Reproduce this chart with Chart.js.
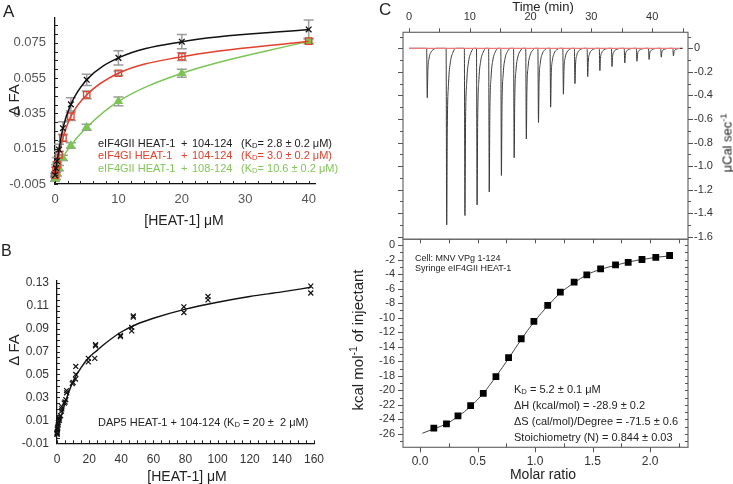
<!DOCTYPE html>
<html>
<head>
<meta charset="utf-8">
<script src="https://cdn.jsdelivr.net/npm/chart.js@4.4.1/dist/chart.umd.min.js"></script>
<style>
  body { margin: 0; background: #fff; width: 733px; height: 484px; position: relative; overflow: hidden;
         font-family: "Liberation Sans", Arial, sans-serif; }
  canvas { position: absolute; }
  .t { position: absolute; white-space: nowrap; line-height: 1; color: #222; }
  .c { transform: translate(-50%, -50%); }
  .m { transform: translateY(-50%); }
  .r { transform: translate(-50%, -50%) rotate(-90deg); }
  sub { font-size: 70%; vertical-align: -0.25em; line-height: 0; }
  sup { font-size: 70%; vertical-align: 0.5em; line-height: 0; }
  .red { color: #e2402c; }
  .grn { color: #83c65a; }
</style>
</head>
<body>
<canvas id="chartA" width="370" height="235" style="left:0;top:0"></canvas>
<canvas id="chartB" width="370" height="244" style="left:0;top:240px"></canvas>
<canvas id="chartC1" width="363" height="255" style="left:370px;top:0"></canvas>
<canvas id="chartC2" width="363" height="262" style="left:370px;top:222px"></canvas>

<!-- panel letters -->
<div class="t" style="left:3px;top:3px;font-size:17px">A</div>
<div class="t" style="left:1px;top:243px;font-size:16px">B</div>
<div class="t" style="left:379px;top:1px;font-size:17px">C</div>

<!-- panel A text -->
<div class="t r" style="left:13px;top:100px;font-size:15px">Δ FA</div>
<div class="t c" style="left:184px;top:220px;font-size:14px">[HEAT-1] μM</div>
<div class="t m" style="left:98px;top:143px;font-size:11px">eIF4GII HEAT-1</div>
<div class="t m" style="left:181px;top:143px;font-size:11px">+</div>
<div class="t m" style="left:192px;top:143px;font-size:11px">104-124</div>
<div class="t m" style="left:241px;top:143px;font-size:11px">(K<sub>D</sub>= 2.8 ± 0.2 μM)</div>
<div class="t m red" style="left:98px;top:155px;font-size:11px">eIF4GI HEAT-1</div>
<div class="t m red" style="left:181px;top:155px;font-size:11px">+</div>
<div class="t m red" style="left:192px;top:155px;font-size:11px">104-124</div>
<div class="t m red" style="left:241px;top:155px;font-size:11px">(K<sub>D</sub>= 3.0 ± 0.2 μM)</div>
<div class="t m grn" style="left:98px;top:168px;font-size:11px">eIF4GII HEAT-1</div>
<div class="t m grn" style="left:181px;top:168px;font-size:11px">+</div>
<div class="t m grn" style="left:192px;top:168px;font-size:11px">108-124</div>
<div class="t m grn" style="left:241px;top:168px;font-size:11px">(K<sub>D</sub>= 10.6 ± 0.2 μM)</div>

<!-- panel B text -->
<div class="t r" style="left:13px;top:350px;font-size:15px">Δ FA</div>
<div class="t c" style="left:187px;top:476px;font-size:14px">[HEAT-1] μM</div>
<div class="t m" style="left:98px;top:422px;font-size:11px">DAP5 HEAT-1 + 104-124 (K<sub>D</sub> = 20 ±&nbsp; 2 μM)</div>

<!-- panel C text -->
<div class="t c" style="left:543px;top:6px;font-size:13px">Time (min)</div>
<div class="t r" style="left:727px;top:143px;font-size:13px">μCal sec<sup>-1</sup></div>
<div class="t r" style="left:357px;top:340px;font-size:15px">kcal mol<sup>-1</sup> of injectant</div>
<div class="t c" style="left:543px;top:474px;font-size:14px">Molar ratio</div>
<div class="t m" style="left:415px;top:258px;font-size:9px">Cell: MNV VPg 1-124</div>
<div class="t m" style="left:415px;top:268px;font-size:9px">Syringe eIF4GII HEAT-1</div>
<div class="t m" style="left:514px;top:389px;font-size:11px">K<sub>D</sub> = 5.2 ± 0.1 μM</div>
<div class="t m" style="left:514px;top:405px;font-size:11px">ΔH (kcal/mol) = -28.9 ± 0.2</div>
<div class="t m" style="left:514px;top:421px;font-size:11px">ΔS (cal/mol)/Degree = -71.5 ± 0.6</div>
<div class="t m" style="left:514px;top:437px;font-size:11px">Stoichiometry (N) = 0.844 ± 0.03</div>

<script>
// ---- Panel A: anisotropy titrations (mean ± error) ----
const concA = [0, 0.156, 0.3125, 0.625, 1.25, 2.5, 5, 10, 20, 40];
const faII104 = [0, 0.004, 0.008, 0.0145, 0.0266, 0.0401, 0.054, 0.0664, 0.0756, 0.0825];
const errII104 = [0.001, 0.002, 0.002, 0.003, 0.0036, 0.0038, 0.0032, 0.004, 0.004, 0.0053];
const faI104 = [0, 0.003, 0.006, 0.0115, 0.021, 0.0333, 0.0455, 0.0577, 0.0671, 0.0759];
const errI104 = [0.001, 0.0015, 0.0015, 0.002, 0.002, 0.0024, 0.0022, 0.0013, 0.0022, 0.0015];
const faII108 = [-0.002, -0.001, 0.001, 0.004, 0.0098, 0.0168, 0.0271, 0.0418, 0.0577, 0.0759];
const errII108 = [0.0015, 0.0015, 0.0015, 0.0015, 0.0015, 0.0015, 0.0017, 0.0025, 0.0023, 0.0015];
const xTicksA = [0, 10, 20, 30, 40];
const yTicksA = [-0.005, 0.015, 0.035, 0.055, 0.075];

// ---- Panel B: DAP5 HEAT-1 replicates and fitted curve ----
const concB = [158, 158, 94, 94, 79, 79, 47.5, 47.5, 46.5, 46.5, 39.5, 39.5, 24, 24, 23.5, 19.5, 19.5,
               11.7, 11.7, 11.5, 10, 9.5, 6, 6, 5.5, 5, 4.5, 3, 3, 2.8, 2.2, 1.5, 1.5, 1.2, 0.8, 0.7,
               0.4, 0.4, 0.2, 0.2, 0.1, 0.1, 0, 0];
const faB = [0.127, 0.121, 0.118, 0.115, 0.109, 0.104, 0.101, 0.100, 0.091, 0.088, 0.084, 0.083, 0.076, 0.075,
             0.064, 0.064, 0.061, 0.057, 0.050, 0.046, 0.043, 0.042, 0.036, 0.034, 0.028, 0.026, 0.025, 0.022,
             0.020, 0.018, 0.014, 0.012, 0.010, 0.011, 0.008, 0.006, 0.004, 0.003, 0.002, 0.000, -0.001,
             -0.002, -0.002, -0.001];
const fitConcB = [0, 1, 2.5, 5, 10, 15, 20, 25, 30, 40, 50, 60, 80, 100, 120, 140, 158];
const fitFaB = [-0.001, 0.005, 0.013, 0.025, 0.044, 0.056, 0.065, 0.071, 0.077, 0.087, 0.094, 0.099,
                0.107, 0.113, 0.118, 0.122, 0.126];
const xTicksB = [0, 20, 40, 60, 80, 100, 120, 140, 160];
const yTicksB = [-0.01, 0.01, 0.03, 0.05, 0.07, 0.09, 0.11, 0.13];

// ---- Panel C top: raw ITC thermogram ----
const injTime = [2.9, 6.1, 9.1, 11.1, 13.1, 15.1, 17.2, 19.2, 21.2, 23.2, 25.3, 27.2, 29.3, 31.3, 33.3,
                 35.4, 37.4, 39.4, 41.4, 43.4];
const injPeak = [-0.42, -1.50, -1.42, -1.33, -1.22, -1.08, -0.93, -0.77, -0.63, -0.50, -0.39, -0.30, -0.24,
                 -0.19, -0.155, -0.125, -0.11, -0.095, -0.075, -0.065];
// shape of one injection peak (minutes after injection, fraction of peak)
const tailDt = [0, 0.1, 0.2, 0.4, 0.7, 1.1, 1.6];
const tailFrac = [0, 1, 0.45, 0.2, 0.08, 0.025, 0];
const baselineTime = [0, 44.6];
const xTicksC1 = [0, 10, 20, 30, 40];
const yTicksC1 = [0, -0.2, -0.4, -0.6, -0.8, -1.0, -1.2, -1.4, -1.6];

// ---- Panel C bottom: integrated heats ----
const molarRatio = [0.12, 0.23, 0.33, 0.44, 0.55, 0.66, 0.77, 0.88, 0.99, 1.11, 1.22, 1.34, 1.45, 1.57,
                    1.70, 1.81, 1.93, 2.05, 2.17];
const heatInj = [-25.2, -24.6, -23.5, -22.1, -20.4, -18.1, -15.5, -12.9, -10.5, -8.3, -6.5, -5.1, -4.1,
                 -3.3, -2.75, -2.4, -2.0, -1.7, -1.45];
const fitRatio = [0.02, 0.12, 0.23, 0.33, 0.44, 0.55, 0.66, 0.77, 0.88, 0.99, 1.11, 1.22, 1.34, 1.45, 1.57,
                  1.70, 1.81, 1.93, 2.05, 2.17];
const fitHeat = [-25.9, -25.3, -24.6, -23.6, -22.2, -20.4, -18.1, -15.6, -13.0, -10.6, -8.4, -6.6, -5.2,
                 -4.1, -3.35, -2.8, -2.35, -2.0, -1.7, -1.5];
const xTicksC2 = [0, 0.5, 1, 1.5, 2];
const yTicksC2 = [0, -2, -4, -6, -8, -10, -12, -14, -16, -18, -20, -22, -24, -26];

Chart.defaults.font.family = '"Liberation Sans", Arial, sans-serif';
Chart.defaults.animation = false;
Chart.defaults.plugins.legend.display = false;
Chart.defaults.plugins.tooltip.enabled = false;

const pts = (xs, ys) => xs.map((x, i) => ({ x: x, y: ys[i] }));

// tick marks drawn by hand so minor ticks and in/out directions can differ
function tickMarks(list) {
  return {
    id: 'tickMarks',
    afterDraw(chart) {
      const { ctx, chartArea: a } = chart;
      ctx.save();
      ctx.lineWidth = 1;
      list.forEach(m => {
        const s = chart.scales[m.scale];
        ctx.strokeStyle = m.color || '#222';
        ctx.beginPath();
        const n = Math.round((m.to - m.from) / m.step);
        for (let i = 0; i <= n; i++) {
          const p = Math.round(s.getPixelForValue(m.from + i * m.step)) + 0.5;
          if (m.edge === 'left') { ctx.moveTo(a.left, p); ctx.lineTo(a.left + m.len, p); }
          if (m.edge === 'right') { ctx.moveTo(a.right, p); ctx.lineTo(a.right - m.len, p); }
          if (m.edge === 'bottom') { ctx.moveTo(p, a.bottom); ctx.lineTo(p, a.bottom - m.len); }
          if (m.edge === 'top') { ctx.moveTo(p, a.top); ctx.lineTo(p, a.top + m.len); }
        }
        ctx.stroke();
      });
      ctx.restore();
    }
  };
}

const frame = {
  id: 'frame',
  afterDraw(chart) {
    const { ctx, chartArea: a } = chart;
    ctx.save();
    ctx.strokeStyle = '#6a6a6a';
    ctx.lineWidth = 1.2;
    ctx.strokeRect(a.left, a.top, a.right - a.left, a.bottom - a.top);
    ctx.restore();
  }
};

const errorBars = {
  id: 'errorBars',
  beforeDatasetsDraw(chart) {
    const { ctx, scales: { x, y } } = chart;
    ctx.save();
    ctx.strokeStyle = '#9c9c9c';
    ctx.lineWidth = 1.5;
    chart.data.datasets.forEach(d => {
      if (!d.errors) return;
      d.data.forEach((p, i) => {
        const px = x.getPixelForValue(p.x);
        const hi = y.getPixelForValue(p.y + d.errors[i]);
        const lo = y.getPixelForValue(p.y - d.errors[i]);
        ctx.beginPath();
        ctx.moveTo(px, hi); ctx.lineTo(px, lo);
        ctx.moveTo(px - 5, hi); ctx.lineTo(px + 5, hi);
        ctx.moveTo(px - 5, lo); ctx.lineTo(px + 5, lo);
        ctx.stroke();
      });
    });
    ctx.restore();
  }
};

// a linear axis with fixed ticks and a fixed box size
function axis(position, min, max, ticks, fmt, opts) {
  const horiz = position === 'top' || position === 'bottom';
  return {
    type: 'linear', position: position, min: min, max: max,
    grid: { display: false, drawTicks: false },
    border: { display: opts.border !== false, color: '#111', width: 1.3 },
    afterBuildTicks: s => { s.ticks = ticks.map(v => ({ value: v })); },
    afterFit: s => { if (horiz) s.height = opts.size; else s.width = opts.size; },
    ticks: { callback: fmt, padding: opts.pad, color: opts.color || '#333',
             font: { size: opts.font }, maxRotation: 0, autoSkip: false }
  };
}

// Panel A
new Chart(document.getElementById('chartA'), {
  type: 'scatter',
  data: {
    datasets: [
      { data: pts(concA, faII104), errors: errII104, showLine: true, cubicInterpolationMode: 'monotone',
        borderColor: '#111', borderWidth: 1.5, pointStyle: 'crossRot', pointRadius: 4,
        pointBorderColor: '#111', pointBorderWidth: 1.3, clip: false },
      { data: pts(concA, faI104), errors: errI104, showLine: true, cubicInterpolationMode: 'monotone',
        borderColor: '#e2402c', borderWidth: 1.5, pointStyle: 'rect', pointRadius: 4.5,
        pointBorderColor: '#e2402c', pointBackgroundColor: 'rgba(255,255,255,0)', pointBorderWidth: 1.3, clip: false },
      { data: pts(concA, faII108), errors: errII108, showLine: true, cubicInterpolationMode: 'monotone',
        borderColor: '#7cc454', borderWidth: 1.5, pointStyle: 'triangle', pointRadius: 4,
        pointBorderColor: '#7cc454', pointBackgroundColor: '#7cc454', clip: false }
    ]
  },
  options: {
    responsive: false,
    layout: { padding: { top: 18, right: 55, left: 0, bottom: 0 } },
    scales: {
      x: axis('bottom', 0, 41, xTicksA, v => String(v), { size: 51, pad: 8, font: 13, color: '#555' }),
      y: axis('left', -0.005, 0.089, yTicksA, v => v.toFixed(3), { size: 55, pad: 9, font: 13, color: '#555' })
    }
  },
  plugins: [errorBars, tickMarks([
    { scale: 'y', edge: 'left', from: -0.005, to: 0.085, step: 0.005, len: 3 },
    { scale: 'x', edge: 'bottom', from: 0, to: 40, step: 2, len: 3 }
  ])]
});

// Panel B
new Chart(document.getElementById('chartB'), {
  type: 'scatter',
  data: {
    datasets: [
      { data: pts(concB, faB), pointStyle: 'crossRot', pointRadius: 3.5, pointBorderColor: '#111',
        pointBorderWidth: 1.2, clip: false },
      { data: pts(fitConcB, fitFaB), showLine: true, cubicInterpolationMode: 'monotone',
        borderColor: '#111', borderWidth: 1.4, pointRadius: 0 }
    ]
  },
  options: {
    responsive: false,
    layout: { padding: { top: 40.4, right: 56, left: 0, bottom: 0 } },
    scales: {
      x: axis('bottom', 0, 160, xTicksB, v => String(v), { size: 40.7, pad: 9, font: 12 }),
      y: axis('left', -0.01, 0.132, yTicksB, v => v.toFixed(2), { size: 57, pad: 8, font: 12 })
    }
  },
  plugins: [tickMarks([
    { scale: 'y', edge: 'left', from: -0.01, to: 0.13, step: 0.005, len: 3 },
    { scale: 'x', edge: 'bottom', from: 0, to: 160, step: 5, len: 3 }
  ])]
});

// Panel C top: thermogram
const trace = [];
injTime.forEach((t, i) => tailDt.forEach((dt, k) => trace.push({ x: t + dt, y: injPeak[i] * tailFrac[k] })));
trace.unshift({ x: baselineTime[0], y: 0 });
trace.push({ x: baselineTime[1], y: 0 });

new Chart(document.getElementById('chartC1'), {
  type: 'scatter',
  data: {
    datasets: [
      { data: baselineTime.map(t => ({ x: t, y: 0 })), showLine: true, borderColor: '#ec7a7a',
        borderWidth: 1.2, pointRadius: 0 },
      { data: trace, showLine: true, cubicInterpolationMode: 'monotone', borderColor: '#3a3a3a',
        borderWidth: 1, pointRadius: 0 }
    ]
  },
  options: {
    responsive: false,
    layout: { padding: { top: 0, right: 0, left: 33, bottom: 15.7 } },
    scales: {
      x: axis('top', -0.99, 45.9, xTicksC1, v => String(v), { size: 32.3, pad: 9, font: 11, border: false }),
      y: axis('right', -1.622, 0.136, yTicksC1, v => v === 0 ? '0' : v.toFixed(1), { size: 45, pad: 6, font: 11, border: false })
    }
  },
  plugins: [frame, tickMarks([
    { scale: 'x', edge: 'top', from: 0, to: 45, step: 5, len: -4, color: '#555' },
    { scale: 'y', edge: 'right', from: -1.6, to: 0, step: 0.2, len: -5, color: '#555' },
    { scale: 'y', edge: 'right', from: -1.6, to: 0.1, step: 0.1, len: -3, color: '#555' },
    { scale: 'y', edge: 'left', from: -1.6, to: 0, step: 0.2, len: -5, color: '#555' },
    { scale: 'y', edge: 'left', from: -1.6, to: 0.1, step: 0.1, len: -3, color: '#555' }
  ])]
});

// Panel C bottom: integrated heats with fit
new Chart(document.getElementById('chartC2'), {
  type: 'scatter',
  data: {
    datasets: [
      { data: pts(molarRatio, heatInj), pointStyle: 'rect', pointRadius: 4.8, pointBackgroundColor: '#000',
        pointBorderColor: '#000', pointBorderWidth: 0 },
      { data: pts(fitRatio, fitHeat), showLine: true, cubicInterpolationMode: 'monotone',
        borderColor: '#444', borderWidth: 1, pointRadius: 0 }
    ]
  },
  options: {
    responsive: false,
    layout: { padding: { top: 17.3, right: 45, left: 0, bottom: 0 } },
    scales: {
      x: axis('bottom', -0.148, 2.33, xTicksC2, v => v.toFixed(1), { size: 36.7, pad: 7, font: 12, border: false }),
      y: axis('left', -27.83, 0.78, yTicksC2, v => String(v), { size: 33, pad: 8, font: 11, border: false })
    }
  },
  plugins: [frame, tickMarks([
    { scale: 'y', edge: 'left', from: -26, to: 0, step: 2, len: -5, color: '#555' },
    { scale: 'y', edge: 'left', from: -27, to: 0, step: 1, len: -3, color: '#555' },
    { scale: 'y', edge: 'right', from: -27, to: 0, step: 1, len: 3, color: '#555' },
    { scale: 'x', edge: 'bottom', from: 0, to: 2, step: 0.5, len: -5, color: '#555' },
    { scale: 'x', edge: 'bottom', from: 0.25, to: 2.25, step: 0.5, len: 4, color: '#555' },
    { scale: 'x', edge: 'top', from: 0, to: 2.25, step: 0.25, len: 4, color: '#555' }
  ])]
});
</script>
</body>
</html>
